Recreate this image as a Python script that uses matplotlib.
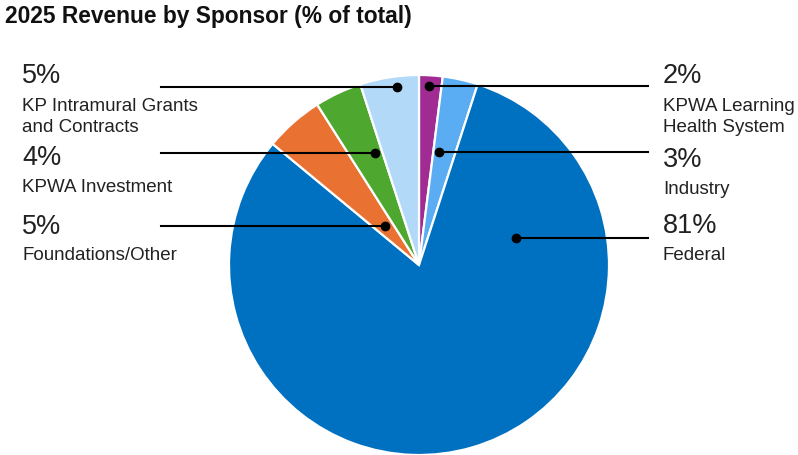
import numpy as np
import matplotlib.pyplot as plt

plt.rcParams['font.family'] = ['Liberation Sans', 'DejaVu Sans']

# data, clockwise from 12 o'clock
sponsors = ['KPWA Learning\nHealth System', 'Industry', 'Federal',
            'Foundations/Other', 'KPWA Investment', 'KP Intramural Grants\nand Contracts']
shares = [2, 3, 81, 5, 4, 5]
colors = ['#A02B93', '#5AADF2', '#0070C0', '#E97132', '#4EA72E', '#B3D9F9']

W, H = 798, 455
cx, cy, R = 419, 190, 190   # pie centre / radius in pixels (y up)

fig = plt.figure(figsize=(W / 100, H / 100), dpi=100)
ax = fig.add_axes([0, 0, 1, 1])

wedges, _ = ax.pie(shares, colors=colors, startangle=90, counterclock=False,
                   center=(cx, cy), radius=R,
                   wedgeprops=dict(edgecolor='white', linewidth=1.6))

ax.set_xlim(0, W)
ax.set_ylim(0, H)
ax.set_aspect('equal')
ax.axis('off')

# label layout: (side, line y, pct y, name y) in pixels from top
layout = [
    ('R', 86, 76, 117),
    ('R', 152, 160, 189),
    ('R', 238, 226, 256),
    ('L', 226, 227, 256),
    ('L', 153, 158, 187),
    ('L', 87, 76, 117),
]
# where the leader dot sits, as a fraction across each wedge
dot_frac = [0.45, 0.25, None, 0.5, 0.75, 0.6]
federal_angle = 15.6

for i, (w, name, val) in enumerate(zip(wedges, sponsors, shares)):
    side, ly, py, ny = layout[i]
    if dot_frac[i] is None:
        ang = federal_angle
    else:
        # wedges run clockwise, so go from theta2 down
        ang = w.theta2 - dot_frac[i] * (w.theta2 - w.theta1)
    dy = (H - ly) - cy
    dot_x = cx + dy / np.tan(np.radians(ang))
    if side == 'L':
        ax.plot([161, dot_x], [H - ly, H - ly], color='black', lw=1.5, zorder=5)
        tx = 22
    else:
        ax.plot([dot_x, 648], [H - ly, H - ly], color='black', lw=1.5, zorder=5)
        tx = 663
    ax.plot(dot_x, H - ly, 'o', color='black', ms=6, zorder=6)
    ax.text(tx, H - py, f'{val}%', fontsize=19.5, color='#222222', ha='left', va='center')
    ax.text(tx, H - ny, name, fontsize=13.5, color='#222222', ha='left', va='center',
            linespacing=1.32)

ax.text(5, H - 17, '2025 Revenue by Sponsor (% of total)', fontsize=16.4,
        fontweight='bold', color='#111111', ha='left', va='center')

fig.savefig('out.png', dpi=100)
